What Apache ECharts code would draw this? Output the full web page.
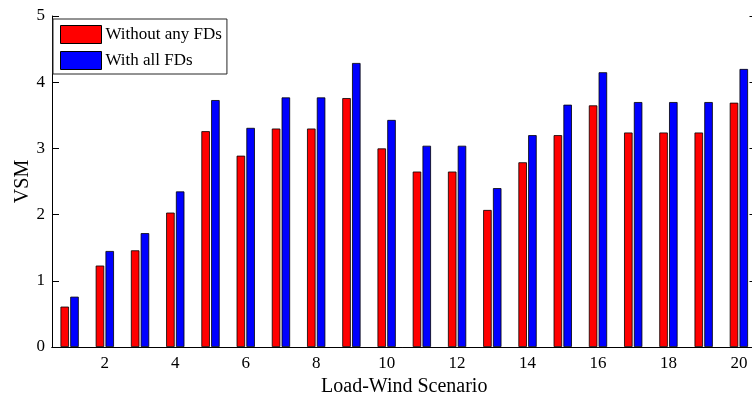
<!DOCTYPE html>
<html>
<head>
<meta charset="utf-8">
<script src="https://cdn.jsdelivr.net/npm/echarts@6/dist/echarts.min.js"></script>
<style>html,body{margin:0;padding:0;background:#fff;overflow:hidden}#c{width:752px;height:400px}</style>
</head>
<body>
<div id="c"></div>
<script>
var categories = ['1','2','3','4','5','6','7','8','9','10','11','12','13','14','15','16','17','18','19','20'];
var withoutFDs = [0.61,1.23,1.46,2.03,3.26,2.89,3.30,3.30,3.76,3.00,2.65,2.65,2.07,2.79,3.20,3.65,3.24,3.24,3.24,3.69];
var withFDs    = [0.76,1.45,1.72,2.35,3.73,3.31,3.77,3.77,4.29,3.43,3.04,3.04,2.40,3.20,3.66,4.15,3.70,3.70,3.70,4.20];
var yTicks = [0,1,2,3,4,5];

var FONT = '"Liberation Serif","Times New Roman",serif';
var chart = echarts.init(document.getElementById('c'));
var evenIdx = function (i) { return i % 2 === 1; };
chart.setOption({
  animation: false,
  backgroundColor: '#fff',
  grid: { left: 52, right: -4.5, top: 16, bottom: 53, containLabel: false, outerBoundsMode: 'none' },
  legend: {
    orient: 'vertical', left: 53, top: 19,
    padding: [6, 5, 4, 7], itemGap: 7, itemWidth: 41, itemHeight: 18,
    borderColor: '#262626', borderWidth: 1, backgroundColor: '#fff',
    itemStyle: { borderColor: '#000', borderWidth: 1 },
    textStyle: { fontFamily: FONT, fontSize: 17, color: '#000', padding: [0, 0, 0, -1] },
    data: [{ name: 'Without any FDs', icon: 'rect' }, { name: 'With all FDs', icon: 'rect' }]
  },
  xAxis: [{
    type: 'category', data: categories, position: 'bottom',
    name: 'Load-Wind Scenario', nameLocation: 'middle', nameGap: 28,
    nameTextStyle: { fontFamily: FONT, fontSize: 20, color: '#000' },
    axisLine: { lineStyle: { color: '#000', width: 1 } },
    axisTick: { inside: true, length: 7, alignWithLabel: true, interval: evenIdx, lineStyle: { color: '#000' } },
    axisLabel: { interval: evenIdx, fontFamily: FONT, fontSize: 17, color: '#000', margin: 8 },
    splitLine: { show: false }
  }, {
    type: 'category', data: categories, position: 'top',
    axisLine: { lineStyle: { color: '#000', width: 1 } },
    axisTick: { inside: true, length: 7, alignWithLabel: true, interval: evenIdx, lineStyle: { color: '#000' } },
    axisLabel: { show: false }, splitLine: { show: false }
  }],
  yAxis: [{
    type: 'value', min: yTicks[0], max: yTicks[yTicks.length - 1], interval: 1,
    name: 'VSM', nameLocation: 'middle', nameGap: 19, nameMoveOverlap: false,
    nameTextStyle: { fontFamily: FONT, fontSize: 20, color: '#000' },
    axisLine: { show: true, lineStyle: { color: '#000', width: 1 } },
    axisTick: { show: true, inside: true, length: 7, lineStyle: { color: '#000' } },
    axisLabel: { fontFamily: FONT, fontSize: 17, color: '#000', margin: 7 },
    splitLine: { show: false }
  }, {
    type: 'value', min: yTicks[0], max: yTicks[yTicks.length - 1], interval: 1, position: 'right',
    axisLine: { show: true, lineStyle: { color: '#000', width: 1 } },
    axisTick: { show: true, inside: true, length: 7, lineStyle: { color: '#000' } },
    axisLabel: { show: false }, splitLine: { show: false }
  }],
  series: [{
    name: 'Without any FDs', type: 'bar', data: withoutFDs, barWidth: 8.5, barGap: '15%',
    itemStyle: { color: '#ff0000', borderColor: '#000', borderWidth: 0.8 }
  }, {
    name: 'With all FDs', type: 'bar', data: withFDs, barWidth: 8.5, barGap: '15%',
    itemStyle: { color: '#0000ff', borderColor: '#000', borderWidth: 0.8 }
  }]
});
</script>
</body>
</html>
